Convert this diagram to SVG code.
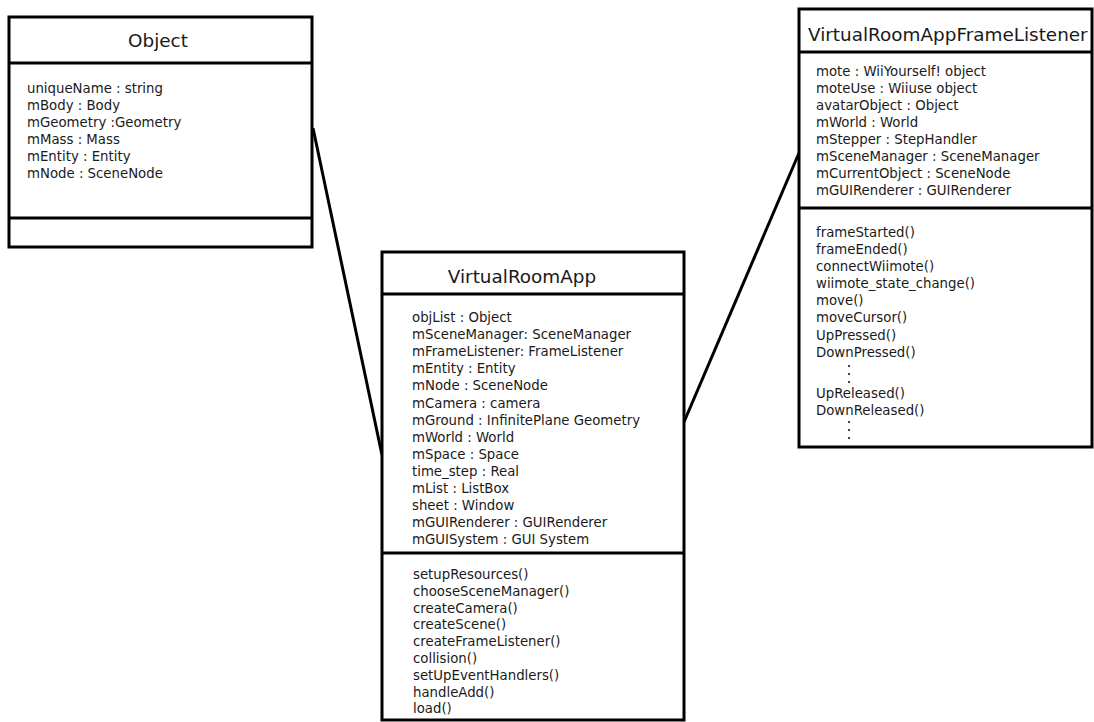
<svg xmlns="http://www.w3.org/2000/svg" width="1094" height="722" viewBox="0 0 1094 722">
<style>
.box{fill:#fff;stroke:#000;stroke-width:3}
.sep{stroke:#000;stroke-width:3}
.conn{stroke:#000;stroke-width:3;fill:none}
.title{font-family:"DejaVu Sans",sans-serif;font-size:18.4px;fill:#1a1a1a}
.t{font-family:"DejaVu Sans",sans-serif;font-size:13.3px;fill:#1a1a1a}
.dot{fill:#1a1a1a}
</style>
<rect width="1094" height="722" fill="#fff"/>
<g id="connectors">
<line class="conn" x1="313" y1="128" x2="382" y2="455"/>
<line class="conn" x1="684" y1="422" x2="799" y2="153"/>
</g>
<g id="object">
<rect class="box" x="9" y="17" width="303" height="230"/>
<line class="sep" x1="9" y1="63" x2="312" y2="63"/>
<line class="sep" x1="9" y1="218" x2="312" y2="218"/>
<text class="title" x="158" y="47" text-anchor="middle">Object</text>
<text class="t" x="27" y="93">uniqueName : string</text>
<text class="t" x="27" y="110">mBody : Body</text>
<text class="t" x="27" y="127">mGeometry :Geometry</text>
<text class="t" x="27" y="144">mMass : Mass</text>
<text class="t" x="27" y="161">mEntity : Entity</text>
<text class="t" x="27" y="178">mNode : SceneNode</text>
</g>
<g id="virtualroomapp">
<rect class="box" x="382" y="252" width="302" height="468"/>
<line class="sep" x1="382" y1="294" x2="684" y2="294"/>
<line class="sep" x1="382" y1="553" x2="684" y2="553"/>
<text class="title" x="522" y="283" text-anchor="middle">VirtualRoomApp</text>
<text class="t" x="412" y="322">objList : Object</text>
<text class="t" x="412" y="339">mSceneManager: SceneManager</text>
<text class="t" x="412" y="356">mFrameListener: FrameListener</text>
<text class="t" x="412" y="373">mEntity : Entity</text>
<text class="t" x="412" y="390">mNode : SceneNode</text>
<text class="t" x="412" y="408">mCamera : camera</text>
<text class="t" x="412" y="425">mGround : InfinitePlane Geometry</text>
<text class="t" x="412" y="442">mWorld : World</text>
<text class="t" x="412" y="459">mSpace : Space</text>
<text class="t" x="412" y="476">time_step : Real</text>
<text class="t" x="412" y="493">mList : ListBox</text>
<text class="t" x="412" y="510">sheet : Window</text>
<text class="t" x="412" y="527">mGUIRenderer : GUIRenderer</text>
<text class="t" x="412" y="544">mGUISystem : GUI System</text>
<text class="t" x="413" y="579">setupResources()</text>
<text class="t" x="413" y="596">chooseSceneManager()</text>
<text class="t" x="413" y="613">createCamera()</text>
<text class="t" x="413" y="629">createScene()</text>
<text class="t" x="413" y="646">createFrameListener()</text>
<text class="t" x="413" y="663">collision()</text>
<text class="t" x="413" y="680">setUpEventHandlers()</text>
<text class="t" x="413" y="697">handleAdd()</text>
<text class="t" x="413" y="713">load()</text>
</g>
<g id="framelistener">
<rect class="box" x="799" y="9" width="293" height="438"/>
<line class="sep" x1="799" y1="52" x2="1092" y2="52"/>
<line class="sep" x1="799" y1="208" x2="1092" y2="208"/>
<text class="title" x="808" y="41">VirtualRoomAppFrameListener</text>
<text class="t" x="816" y="76">mote : WiiYourself! object</text>
<text class="t" x="816" y="93">moteUse : Wiiuse object</text>
<text class="t" x="816" y="110">avatarObject : Object</text>
<text class="t" x="816" y="127">mWorld : World</text>
<text class="t" x="816" y="144">mStepper : StepHandler</text>
<text class="t" x="816" y="161">mSceneManager : SceneManager</text>
<text class="t" x="816" y="178">mCurrentObject : SceneNode</text>
<text class="t" x="816" y="195">mGUIRenderer : GUIRenderer</text>
<text class="t" x="816" y="237">frameStarted()</text>
<text class="t" x="816" y="254">frameEnded()</text>
<text class="t" x="816" y="271">connectWiimote()</text>
<text class="t" x="816" y="288">wiimote_state_change()</text>
<text class="t" x="816" y="305">move()</text>
<text class="t" x="816" y="322">moveCursor()</text>
<text class="t" x="816" y="340">UpPressed()</text>
<text class="t" x="816" y="357">DownPressed()</text>
<circle class="dot" cx="849" cy="366" r="1.1"/>
<circle class="dot" cx="849" cy="374" r="1.1"/>
<circle class="dot" cx="849" cy="382" r="1.1"/>
<text class="t" x="816" y="398">UpReleased()</text>
<text class="t" x="816" y="415">DownReleased()</text>
<circle class="dot" cx="849" cy="422" r="1.1"/>
<circle class="dot" cx="849" cy="430" r="1.1"/>
<circle class="dot" cx="849" cy="438" r="1.1"/>
</g>
</svg>
